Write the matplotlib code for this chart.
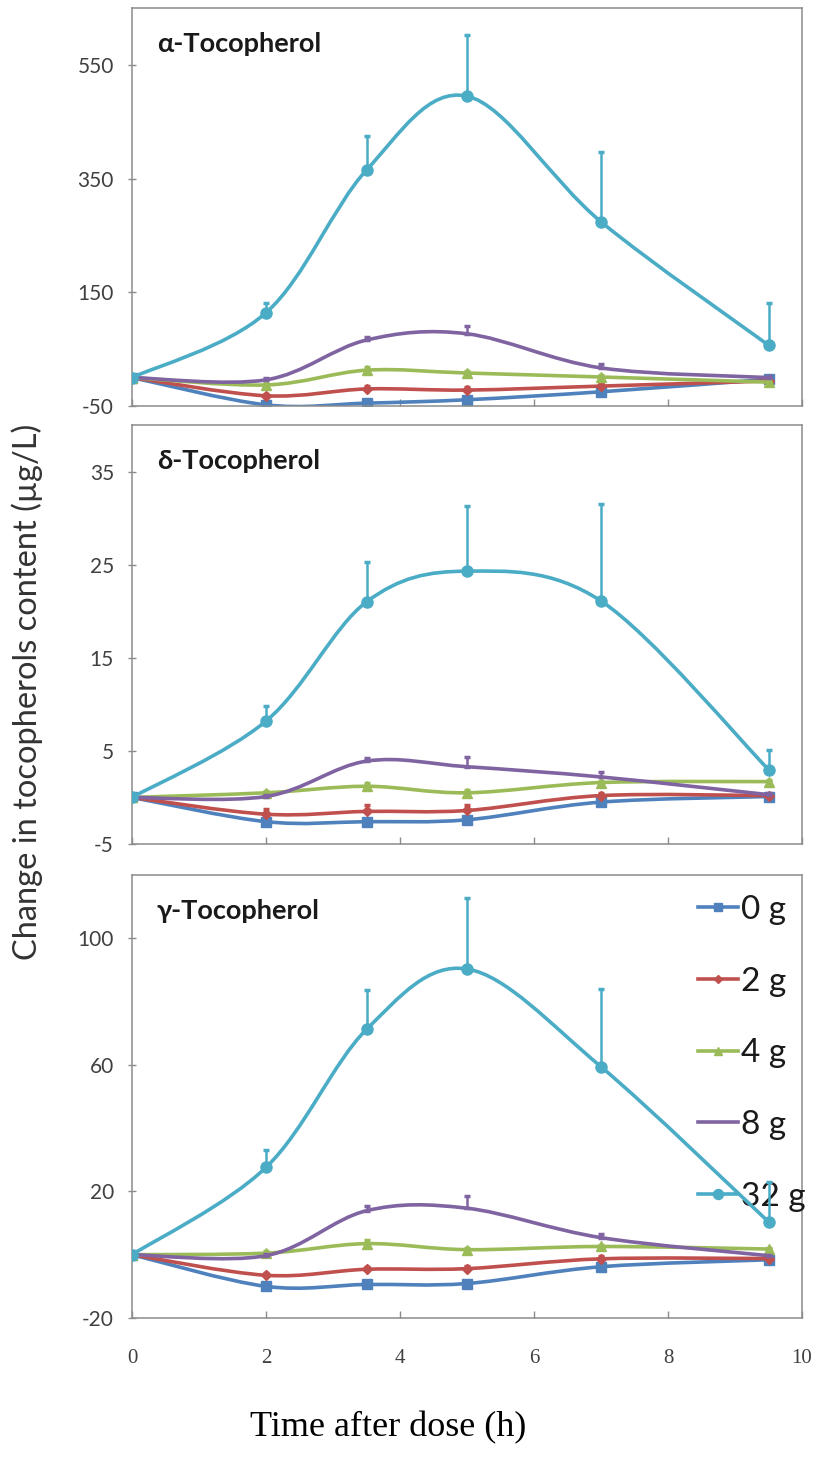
import numpy as np
import matplotlib
matplotlib.use('Agg')
import matplotlib.pyplot as plt
from matplotlib.path import Path
from matplotlib.patches import PathPatch
from matplotlib.lines import Line2D

plt.rcParams['axes.unicode_minus'] = False

# time points (h)
time_h = [0, 2, 3.5, 5, 7, 9.5]
doses = ['0 g', '2 g', '4 g', '8 g', '32 g']

# alpha-tocopherol, mean change and upper error
alpha_0g = [0, -48, -45, -39, -25, -3]
alpha_2g = [0, -32, -20, -22, -15, -6]
alpha_4g = [0, -13, 13, 8, 1, -8]
alpha_8g = [0, -4, 66, 77, 17, 0]
alpha_32g = [0, 114, 365, 495, 274, 57]
alpha_err_0g = [0, 2, 3, 4, 3, 2]
alpha_err_2g = [0, 3, 5, 6, 4, 2]
alpha_err_4g = [0, 3, 5, 4, 3, 2]
alpha_err_8g = [0, 3, 5, 14, 6, 2]
alpha_err_32g = [0, 17, 60, 108, 123, 74]

# delta-tocopherol
delta_0g = [0, -2.6, -2.6, -2.4, -0.5, 0.1]
delta_2g = [0, -1.8, -1.5, -1.4, 0.2, 0.2]
delta_4g = [0, 0.5, 1.2, 0.5, 1.6, 1.7]
delta_8g = [0, 0.1, 3.9, 3.3, 2.2, 0.3]
delta_32g = [0, 8.2, 21.0, 24.3, 21.1, 3.0]
delta_err_0g = [0, 0.3, 0.3, 0.3, 0.3, 0.2]
delta_err_2g = [0, 0.6, 0.7, 0.6, 0.3, 0.2]
delta_err_4g = [0, 0.2, 0.3, 0.3, 0.2, 0.2]
delta_err_8g = [0, 0.2, 0.3, 1.0, 0.5, 0.2]
delta_err_32g = [0, 1.6, 4.3, 7.0, 10.4, 2.1]

# gamma-tocopherol
gamma_0g = [0, -10, -9.4, -9.1, -3.8, -1.6]
gamma_2g = [0, -6.5, -4.6, -4.4, -1.3, -1.2]
gamma_4g = [0, 0.5, 3.5, 1.6, 2.6, 1.8]
gamma_8g = [0, -0.3, 13.9, 14.7, 5.4, -0.3]
gamma_32g = [0, 27.6, 71.2, 90.3, 59.4, 10.4]
gamma_err_0g = [0, 0.5, 0.5, 0.5, 0.5, 0.3]
gamma_err_2g = [0, 0.8, 0.8, 0.8, 0.8, 0.4]
gamma_err_4g = [0, 0.8, 1.0, 0.5, 0.5, 0.4]
gamma_err_8g = [0, 0.5, 1.5, 3.9, 1.1, 0.3]
gamma_err_32g = [0, 5.4, 12.6, 22.3, 24.6, 12.6]

panel_titles = ['α-Tocopherol', 'δ-Tocopherol', 'γ-Tocopherol']
panel_yticks = [[-50, 150, 350, 550], [-5, 5, 15, 25, 35], [-20, 20, 60, 100]]
panel_ylims = [(-50, 650), (-5, 40), (-20, 120)]
xticks = [0, 2, 4, 6, 8, 10]

panels = [
    ([alpha_0g, alpha_2g, alpha_4g, alpha_8g, alpha_32g],
     [alpha_err_0g, alpha_err_2g, alpha_err_4g, alpha_err_8g, alpha_err_32g]),
    ([delta_0g, delta_2g, delta_4g, delta_8g, delta_32g],
     [delta_err_0g, delta_err_2g, delta_err_4g, delta_err_8g, delta_err_32g]),
    ([gamma_0g, gamma_2g, gamma_4g, gamma_8g, gamma_32g],
     [gamma_err_0g, gamma_err_2g, gamma_err_4g, gamma_err_8g, gamma_err_32g]),
]

colors = ['#4F81BD', '#C0504D', '#9BBB59', '#8064A2', '#4BACC6']
markers = ['s', 'D', '^', None, 'o']
msizes = [7, 5, 7, 0, 8]

SANS = ['Lato', 'DejaVu Sans']
SERIF = ['Liberation Serif', 'DejaVu Serif']
TICK_COLOR = '#404040'
SPINE_COLOR = '#8c8c8c'


def smooth_path(x, y):
    # Excel-like smoothed line: cubic bezier through every point
    pts = np.column_stack([x, y]).astype(float)
    n = len(pts)
    verts = [pts[0]]
    codes = [Path.MOVETO]
    for i in range(n - 1):
        p_prev = pts[i - 1] if i > 0 else pts[i]
        p_next2 = pts[i + 2] if i + 2 < n else pts[i + 1]
        c1 = pts[i] + (pts[i + 1] - p_prev) / 6.0
        c2 = pts[i + 1] - (p_next2 - pts[i]) / 6.0
        verts += [c1, c2, pts[i + 1]]
        codes += [Path.CURVE4] * 3
    return Path(verts, codes)


fig = plt.figure(figsize=(8.17, 14.67), dpi=100)
W, H = 817, 1467
boxes = [(8, 406), (425, 844), (875, 1318)]
left_px, right_px = 132, 802

axes = []
for k, (top_px, bot_px) in enumerate(boxes):
    ax = fig.add_axes([left_px / W, 1 - bot_px / H,
                       (right_px - left_px) / W, (bot_px - top_px) / H])
    axes.append(ax)
    series, errors = panels[k]
    for j in range(len(doses)):
        ax.errorbar(time_h, series[j], yerr=[np.zeros(len(time_h)), errors[j]],
                    fmt='none', ecolor=colors[j], elinewidth=1.8,
                    capsize=2.5, capthick=2.5, zorder=2 + j)
        ax.add_patch(PathPatch(smooth_path(time_h, series[j]), facecolor='none',
                               edgecolor=colors[j], lw=2.6, zorder=2 + j))
        if markers[j]:
            ax.plot(time_h, series[j], linestyle='none', marker=markers[j],
                    ms=msizes[j], color=colors[j], zorder=2 + j)

    ax.set_xlim(0, 10)
    ax.set_ylim(*panel_ylims[k])
    ax.set_xticks(xticks)
    ax.set_yticks(panel_yticks[k])
    ax.tick_params(axis='x', direction='in', length=5, width=1, color=SPINE_COLOR,
                   labelsize=15, labelcolor=TICK_COLOR, pad=22)
    ax.tick_params(axis='y', direction='inout', length=6, width=1, color=SPINE_COLOR,
                   labelsize=15, labelcolor=TICK_COLOR, pad=10)
    for lab in ax.get_yticklabels():
        lab.set_family(SANS)
    if k < 2:
        ax.set_xticklabels([])
    else:
        for lab in ax.get_xticklabels():
            lab.set_family(SERIF)
    for sp in ax.spines.values():
        sp.set_color(SPINE_COLOR)
        sp.set_linewidth(1.1)

    ax.annotate(panel_titles[k], xy=(0, 1), xycoords='axes fraction',
                xytext=(18, -26), textcoords='offset points',
                ha='left', va='center', fontsize=19.5, fontweight='bold',
                family=SANS, color='#1a1a1a')

# legend in bottom panel
handles = []
for j in range(len(doses)):
    handles.append(Line2D([0], [0], color=colors[j], lw=2.6,
                          marker=markers[j] if markers[j] else None,
                          ms=msizes[j] * 0.9))
axes[2].legend(handles, doses, loc='upper left', bbox_to_anchor=(0.845, 0.955),
               frameon=False, prop={'family': SANS, 'size': 24},
               handlelength=1.2, handletextpad=0.1, labelspacing=1.25,
               borderpad=0, borderaxespad=0)
for txt in axes[2].get_legend().get_texts():
    txt.set_color('#1a1a1a')

fig.text(27 / W, 1 - 692 / H, 'Change in tocopherols content (µg/L)',
         rotation=90, ha='center', va='center', fontsize=23.5,
         family=SANS, color='#333333')
fig.text(388 / W, 1 - 1436 / H, 'Time after dose (h)', ha='center', va='baseline',
         fontsize=26, family=SERIF, color='black')

fig.savefig('out.png', dpi=100)
